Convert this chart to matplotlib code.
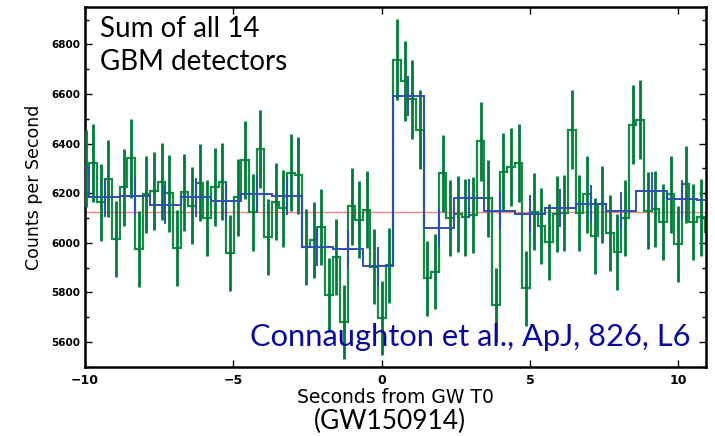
import numpy as np
import matplotlib
matplotlib.use("Agg")
import matplotlib.pyplot as plt
from matplotlib.ticker import MultipleLocator

# ---- data ----
BIN_WIDTH = 0.256          # s, fine binning
FIRST_EDGE = -10.106       # s, left edge of first fine bin
green_rates = [6300, 6323, 6163, 6259, 6016, 6223, 6340, 5976, 6196, 6209,
               6247, 6199, 5980, 6203, 6149, 6243, 6099, 6225, 6247, 5959,
               6183, 6333, 6123, 6379, 6023, 6165, 6139, 6283, 6272, 5983,
               6013, 6065, 5789, 5943, 5679, 6147, 6093, 6133, 5903, 5696,
               5909, 6739, 6652, 6579, 6456, 5856, 5883, 6280, 6099, 6116,
               6103, 6112, 6409, 6179, 5749, 6285, 6307, 6323, 5816, 6125,
               6069, 6005, 6116, 6120, 6456, 6120, 6196, 6027, 6156, 6040,
               5963, 6099, 6476, 6496, 6129, 6136, 6083, 6196, 5996, 6236,
               6083, 6103, 6043]

BLOCK_WIDTH = 1.024        # s, coarse binning
BLOCK_FIRST_EDGE = -10.874
blue_rates = [6307, 6183, 6188, 6153, 6183, 6169, 6197, 6189, 5983, 5976,
              5906, 6592, 6059, 6179, 6127, 6116, 6141, 6156, 6127, 6209,
              6176, 6174]

background = 6125

x_ticks = [-10, -5, 0, 5, 10]
y_ticks = [5600, 5800, 6000, 6200, 6400, 6600, 6800]

# ---- derived ----
g = np.array(green_rates, float)
g_edges = FIRST_EDGE + BIN_WIDTH * np.arange(len(g) + 1)
g_cent = 0.5 * (g_edges[:-1] + g_edges[1:])
g_err = np.sqrt(g / BIN_WIDTH)

b = np.array(blue_rates, float)
b_edges = BLOCK_FIRST_EDGE + BLOCK_WIDTH * np.arange(len(b) + 1)
b_cent = 0.5 * (b_edges[:-1] + b_edges[1:])
b_err = np.sqrt(b / BLOCK_WIDTH)

# ---- figure ----
fig = plt.figure(figsize=(7.15, 4.36), dpi=100)
ax = fig.add_axes([0.1189, 0.1589, 0.8685, 0.8244])

GREEN_STEP = "#178a48"
GREEN_ERR = "#007a3a"
BLUE = "#2f4fb0"

ax.axhline(background, color="#ff8080", lw=1.0, zorder=1)
ax.stairs(g, g_edges, baseline=None, color=GREEN_STEP, lw=1.6, zorder=2)
ax.errorbar(g_cent, g, yerr=g_err, fmt="none", ecolor=GREEN_ERR,
            elinewidth=2.0, capsize=0, zorder=3)
ax.stairs(b, b_edges, baseline=None, color=BLUE, lw=1.4, zorder=4)
ax.errorbar(b_cent, b, yerr=b_err, fmt="none", ecolor=BLUE,
            elinewidth=1.4, capsize=0, zorder=4)

ax.set_xlim(-10, 10.93)
ax.set_ylim(5500, 6950)
ax.set_xticks(x_ticks)
ax.set_yticks(y_ticks)
ax.yaxis.set_minor_locator(MultipleLocator(100))
ax.tick_params(which="both", direction="in", top=True, right=True)
ax.tick_params(which="major", length=5, width=1)
ax.tick_params(which="minor", length=3, width=1)
for lab in ax.get_xticklabels():
    lab.set_fontweight("bold")
    lab.set_fontsize(9)
for lab in ax.get_yticklabels():
    lab.set_fontweight("bold")
    lab.set_fontsize(7.5)
ax.tick_params(axis="x", pad=5)
for sp in ax.spines.values():
    sp.set_linewidth(1.8)

ax.set_ylabel("Counts per Second", fontsize=12.5, labelpad=6)
ax.set_xlabel("Seconds from GW T0", fontsize=13.5, labelpad=1)

ax.text(0.024, 0.975, "Sum of all 14\nGBM detectors", transform=ax.transAxes,
        ha="left", va="top", fontsize=20, family="Lato", linespacing=1.3,
        color="black")
ax.text(0.975, 0.045, "Connaughton et al., ApJ, 826, L6",
        transform=ax.transAxes, ha="right", va="bottom", fontsize=22.2,
        family="Lato", color="#0a0aa0")
fig.text(0.545, 0.004, "(GW150914)", ha="center", va="bottom",
         fontsize=19, family="Lato", color="black")

fig.savefig("out.png", dpi=100)
